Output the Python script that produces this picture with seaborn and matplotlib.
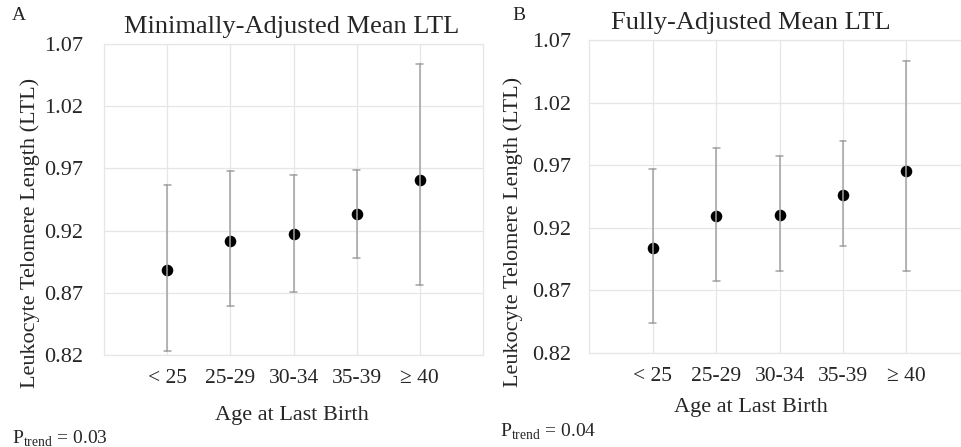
import pandas as pd
import numpy as np
import seaborn as sns
import matplotlib
matplotlib.use("Agg")
import matplotlib.pyplot as plt

# Data
age_groups = ["< 25", "25-29", "30-34", "35-39", "\u2265 40"]

# Panel A: minimally-adjusted mean LTL with 95% CI
min_mean = [0.888, 0.912, 0.917, 0.933, 0.961]
min_lower = [0.823, 0.859, 0.871, 0.898, 0.876]
min_upper = [0.957, 0.968, 0.965, 0.969, 1.054]

# Panel B: fully-adjusted mean LTL with 95% CI
full_mean = [0.904, 0.929, 0.930, 0.946, 0.965]
full_lower = [0.844, 0.877, 0.885, 0.905, 0.885]
full_upper = [0.967, 0.984, 0.977, 0.989, 1.053]

y_ticks = [0.82, 0.87, 0.92, 0.97, 1.02, 1.07]
p_trend = ["0.03", "0.04"]

sns.set_theme(style="white")
plt.rcParams["font.family"] = ["Liberation Serif", "DejaVu Serif"]
plt.rcParams["mathtext.fontset"] = "custom"
plt.rcParams["mathtext.rm"] = "Liberation Serif"


def long_table(mean, lower, upper):
    # three rows per group: median gives the mean, full range gives the CI
    rows = []
    for g, m, lo, hi in zip(age_groups, mean, lower, upper):
        for v in (lo, m, hi):
            rows.append({"age": g, "ltl": v})
    return pd.DataFrame(rows)


def draw_panel(ax, df, title, title_x, tick_pad):
    sns.pointplot(data=df, x="age", y="ltl", order=age_groups,
                  estimator="median", errorbar=("pi", 100),
                  color="black", linestyle="none", markers="o",
                  markersize=6.3, capsize=0.11,
                  err_kws={"color": "#a3a3a3", "linewidth": 1.1}, ax=ax)
    ax.set_xlim(-1, 5)
    ax.set_ylim(0.82, 1.07)
    ax.set_yticks(y_ticks)
    ax.set_yticklabels(["%.2f" % t for t in y_ticks])
    ax.grid(True, color="#e6e6e6", linewidth=0.9)
    ax.set_axisbelow(True)
    for s in ax.spines.values():
        s.set_color("#e6e6e6")
        s.set_linewidth(0.9)
    ax.tick_params(axis="y", labelsize=16, pad=tick_pad, length=0)
    ax.tick_params(axis="x", labelsize=15.5, pad=10, length=0)
    ax.set_xlabel("Age at Last Birth", fontsize=16)
    ax.set_ylabel("Leukocyte Telomere Length (LTL)", fontsize=16)
    ax.set_title(title, fontsize=19, x=title_x, pad=8)


fig = plt.figure(figsize=(9.62, 4.47), dpi=100)
ax1 = fig.add_axes([0.1081, 0.2058, 0.394, 0.6958])
ax2 = fig.add_axes([0.6123, 0.2110, 0.396, 0.6996])

draw_panel(ax1, long_table(min_mean, min_lower, min_upper),
           "Minimally-Adjusted Mean LTL", 0.496, 15)
draw_panel(ax2, long_table(full_mean, full_lower, full_upper),
           "Fully-Adjusted Mean LTL", 0.425, 13)

ax1.yaxis.set_label_coords(-0.169, 0.394)
ax2.yaxis.set_label_coords(-0.173, 0.386)
ax1.xaxis.set_label_coords(0.496, -0.165)
ax2.xaxis.set_label_coords(0.425, -0.146)

fig.text(0.012, 0.955, "A", fontsize=14)
fig.text(0.533, 0.955, "B", fontsize=14)
fig.text(0.012, 0.008, r"$\mathrm{P}_{\mathrm{trend}}$ = " + p_trend[0], fontsize=14)
fig.text(0.520, 0.022, r"$\mathrm{P}_{\mathrm{trend}}$ = " + p_trend[1], fontsize=14)

fig.savefig("out.png", dpi=100)
